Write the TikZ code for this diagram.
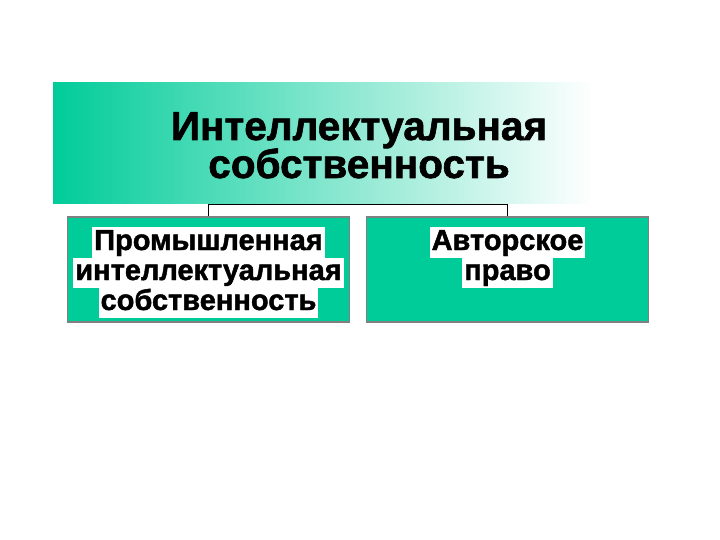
\documentclass[tikz,border=0pt]{standalone}
\usepackage{fontspec}
\newfontfamily\hf{Liberation Sans}[BoldFeatures={FakeBold=1.5}]
\definecolor{tealc}{RGB}{0,204,153}
\definecolor{edgec}{RGB}{128,128,128}
\pgfdeclarehorizontalshading{titlefade}{100bp}{color(0bp)=(tealc); color(25bp)=(tealc); color(48bp)=(tealc!50); color(72bp)=(white); color(100bp)=(white)}
\tikzset{
  titlebox/.style={rectangle, draw=none, shading=titlefade, minimum width=575pt, minimum height=121pt, inner sep=0pt},
  catbox/.style={rectangle, draw=edgec, line width=1.5pt, fill=tealc, minimum width=282pt, minimum height=105pt, inner sep=0pt},
  titletext/.style={font=\hf\bfseries\fontsize{40.5}{40.5}\selectfont, text=black, inner sep=0pt, anchor=base},
  linetext/.style={font=\hf\bfseries\fontsize{29}{29}\selectfont, text=black, fill=white, inner xsep=2pt, inner ysep=1pt, text height=21.5pt, text depth=6.5pt, anchor=base},
  conn/.style={draw=black, line width=1pt}
}
\begin{document}
\begin{tikzpicture}[x=1pt,y=-1pt]
\useasboundingbox (0,0) rectangle (720,540);
\node[titlebox] (T) at (340.5,143.5) {};
\node[titletext] (t1) at (359,140) {Интеллектуальная};
\node[titletext] (t2) at (359,178) {собственность};
\node[catbox] (L) at (208.5,269.5) {};
\node[catbox] (R) at (507.5,269.5) {};
\node[linetext] (l1) at (208.5,250) {Промышленная};
\node[linetext] (l2) at (208.5,280) {интеллектуальная};
\node[linetext] (l3) at (208.5,310) {собственность};
\node[linetext] (r1) at (507.5,250) {Авторское};
\node[linetext] (r2) at (507.5,280) {право};
\draw[conn] (L.north) -- (L.north |- T.south) -- (R.north |- T.south) -- (R.north);
\end{tikzpicture}
\end{document}
